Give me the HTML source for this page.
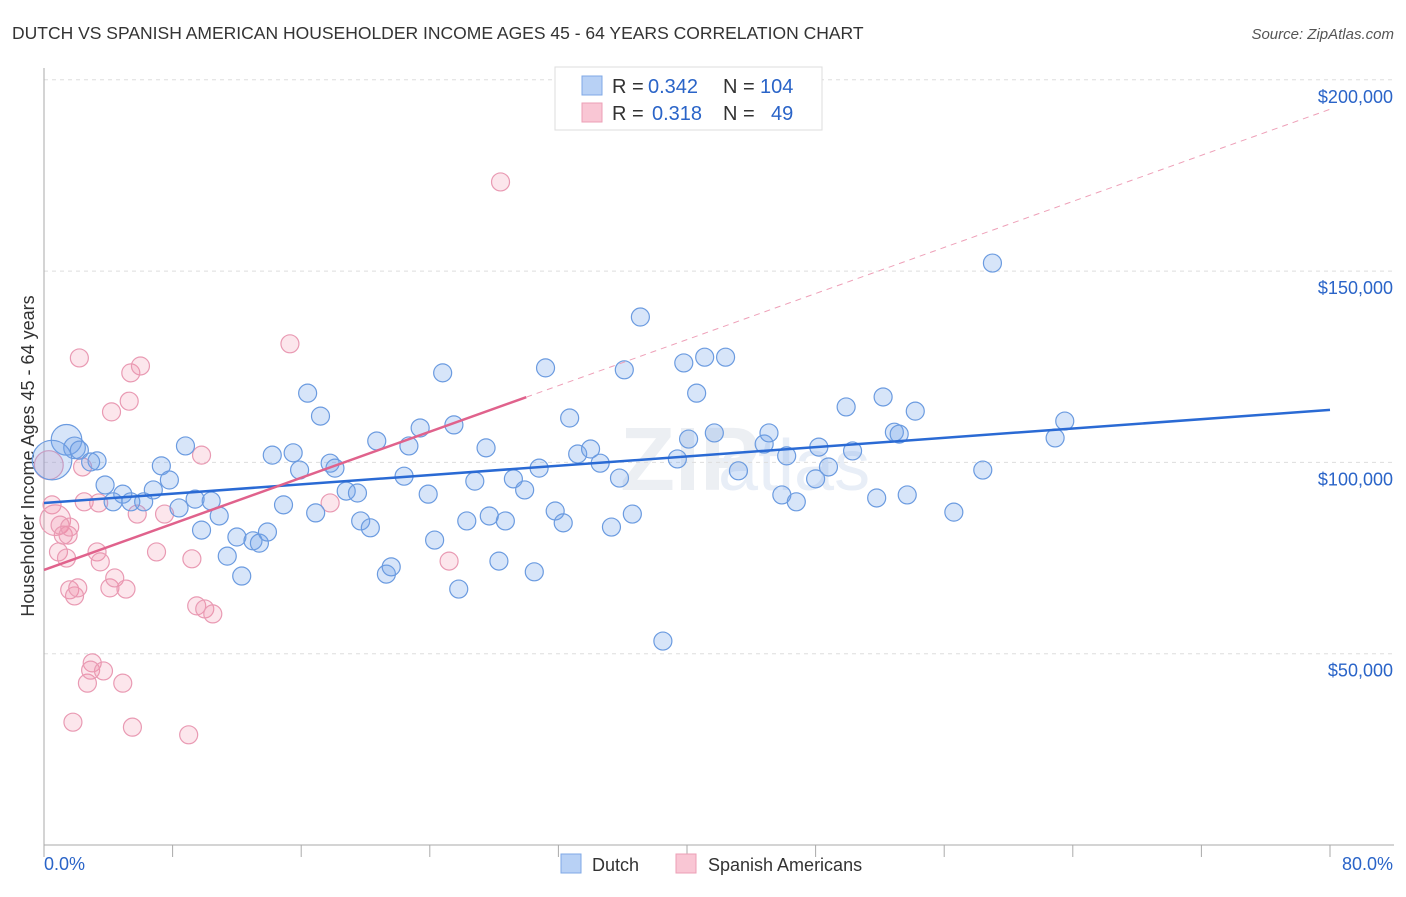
<!DOCTYPE html>
<html><head><meta charset="utf-8"><style>
body{margin:0;background:#fff;font-family:"Liberation Sans",sans-serif;}
svg text{font-family:"Liberation Sans",sans-serif;}
</style></head><body>
<svg id="c" width="1406" height="892">
<text x="12" y="39" font-size="17.5" fill="#333">DUTCH VS SPANISH AMERICAN HOUSEHOLDER INCOME AGES 45 - 64 YEARS CORRELATION CHART</text>
<text x="1394" y="39" font-size="15" fill="#555" font-style="italic" text-anchor="end">Source: ZipAtlas.com</text>
<text x="620" y="490" font-size="90" fill="#eceff3" font-weight="bold">ZIP</text>
<text x="718" y="490" font-size="72" fill="#e8eef7">atlas</text>
<text transform="translate(34,456) rotate(-90)" font-size="18" fill="#333" text-anchor="middle">Householder Income Ages 45 - 64 years</text>
<g id="grid"></g><g id="marks"></g><g id="trend"></g>
<g>
<rect x="555" y="67" width="267" height="63" fill="#fff" stroke="#ddd"/>
<rect x="582" y="76" width="20" height="19" fill="#b8d1f5" stroke="#7fa8e6"/>
<rect x="582" y="103" width="20" height="19" fill="#f9c6d4" stroke="#ec9fb6"/>
<text x="612" y="93" font-size="20" fill="#333">R =</text>
<text x="648" y="93" font-size="20" fill="#2a64c8">0.342</text>
<text x="723" y="93" font-size="20" fill="#333">N =</text>
<text x="760" y="93" font-size="20" fill="#2a64c8">104</text>
<text x="612" y="120" font-size="20" fill="#333">R =</text>
<text x="652" y="120" font-size="20" fill="#2a64c8">0.318</text>
<text x="723" y="120" font-size="20" fill="#333">N =</text>
<text x="771" y="120" font-size="20" fill="#2a64c8">49</text>
</g>
<g>
<rect x="561" y="854" width="20" height="19" fill="#b8d1f5" stroke="#7fa8e6"/>
<text x="592" y="871" font-size="18" fill="#333">Dutch</text>
<rect x="676" y="854" width="20" height="19" fill="#f9c6d4" stroke="#ec9fb6"/>
<text x="708" y="871" font-size="18" fill="#333">Spanish Americans</text>
</g>
<text x="44" y="870" font-size="18" fill="#2a64c8">0.0%</text>
<text x="1393" y="870" font-size="18" fill="#2a64c8" text-anchor="end">80.0%</text>
</svg>
<script>
const yTicks=[50,100,150,200];
const yTickLabels=["$50,000","$100,000","$150,000","$200,000"];
const dutchX=[1.4,1.9,2.2,3.3,2.9,0.5,3.8,4.9,4.3,5.4,6.2,6.8,7.3,7.8,8.4,8.8,9.4,9.8,10.4,10.9,11.4,12.0,12.3,13.0,13.4,13.9,14.2,14.9,15.5,15.9,16.4,16.9,17.2,17.8,18.1,18.8,19.5,19.7,20.3,20.7,21.3,21.6,22.4,22.7,23.4,23.9,24.3,24.8,25.5,25.8,26.3,26.8,27.5,27.7,28.3,28.7,29.2,29.9,30.5,30.8,31.2,31.8,32.3,32.7,33.2,34.0,34.6,35.3,35.8,36.1,36.6,37.1,38.5,39.4,39.8,40.1,40.6,41.1,41.7,42.4,43.2,44.8,45.1,45.9,46.2,46.8,48.0,48.2,48.8,49.9,50.3,51.8,52.2,52.9,53.2,53.7,54.2,56.6,58.4,59.0,62.9,63.5];
const dutchY=[105.9,103.8,103.2,100.4,100.1,100.6,94.1,91.7,89.7,89.7,89.7,92.8,99.1,95.4,88.1,104.3,90.4,82.3,89.9,86.0,75.5,80.5,70.3,79.5,78.9,81.8,101.9,88.9,102.5,98.0,118.1,86.8,112.1,99.8,98.5,92.5,92.0,84.7,82.9,105.6,70.8,72.7,96.4,104.3,109.0,91.7,79.7,123.4,109.8,66.9,84.7,95.1,103.8,86.0,74.2,84.7,95.7,92.8,71.4,98.5,124.7,87.3,84.2,111.6,102.2,103.5,99.8,83.1,95.9,124.2,86.5,138.0,53.3,100.9,126.0,106.1,118.1,127.5,107.7,127.5,97.8,104.8,107.7,91.5,101.7,89.7,95.7,104.0,98.8,114.5,103.0,90.7,117.1,107.9,107.4,91.5,113.4,87.0,98.0,152.1,106.4,110.8];
const dutchSize=[1.7,1.2,1,1,1,2.2,1,1,1,1,1,1,1,1,1,1,1,1,1,1,1,1,1,1,1,1,1,1,1,1,1,1,1,1,1,1,1,1,1,1,1,1,1,1,1,1,1,1,1,1,1,1,1,1,1,1,1,1,1,1,1,1,1,1,1,1,1,1,1,1,1,1,1,1,1,1,1,1,1,1,1,1,1,1,1,1,1,1,1,1,1,1,1,1,1,1,1,1,1,1,1,1];
const spanX=[0.3,0.5,0.7,1.0,1.2,1.5,1.6,0.9,1.4,1.6,1.9,2.1,2.4,2.5,2.2,3.0,2.7,3.3,3.5,2.9,3.7,4.1,4.2,4.4,4.9,5.1,5.4,5.5,1.8,5.3,6.0,5.8,7.0,7.5,9.0,9.2,9.5,9.8,10.0,10.5,15.3,17.8,25.2,28.4,3.4];
const spanY=[99.3,88.9,84.9,83.6,81.0,81.0,83.1,76.6,75.0,66.7,65.1,67.2,98.8,89.7,127.3,47.6,42.3,76.6,74.0,45.7,45.5,67.2,113.2,69.8,42.3,66.9,123.4,30.8,32.1,116.0,125.2,86.5,76.6,86.5,28.8,74.8,62.5,101.9,61.7,60.4,131.0,89.4,74.2,173.3,89.4];
const spanSize=[1.6,1,1.7,1,1,1,1,1,1,1,1,1,1,1,1,1,1,1,1,1,1,1,1,1,1,1,1,1,1,1,1,1,1,1,1,1,1,1,1,1,1,1,1,1,1];
const dutchTrend=[89.4,0.304];
const spanTrend=[71.9,1.505];
const spanSolidEnd=30;
const NS="http://www.w3.org/2000/svg";
const X=v=>44+v/80*1286;
const Y=v=>845-v/50*191.3;
function mk(t,a,p){const e=document.createElementNS(NS,t);for(const k in a)e.setAttribute(k,a[k]);p.appendChild(e);return e;}
const grid=document.getElementById('grid'),marks=document.getElementById('marks'),trend=document.getElementById('trend');
yTicks.forEach((t,i)=>{
 const l=mk('line',{x1:44,y1:Y(t),x2:1394,y2:Y(t),stroke:'#ddd','stroke-dasharray':'4,4'},grid);
 
 
 const tx=mk('text',{x:1393,y:Y(t)+23,'font-size':18,fill:'#2a64c8','text-anchor':'end'},grid);
 tx.textContent=yTickLabels[i];
 
 
});
mk('line',{x1:44,y1:68,x2:44,y2:845,stroke:'#aaa'},grid);
mk('line',{x1:44,y1:845,x2:1394,y2:845,stroke:'#aaa'},grid);
for(let i=0;i<=10;i++){const t=mk('line',{x1:X(i*8),y1:845,x2:X(i*8),y2:857,stroke:'#aaa'},grid);
 
 }
spanX.forEach((x,i)=>{const c=mk('circle',{cx:X(x),cy:Y(spanY[i]),r:9*spanSize[i],fill:'rgba(240,140,170,0.22)',stroke:'#e99ab3','stroke-width':1.2},marks);
 
 });
dutchX.forEach((x,i)=>{const c=mk('circle',{cx:X(x),cy:Y(dutchY[i]),r:9*dutchSize[i],fill:'rgba(110,160,235,0.28)',stroke:'#6b9be0','stroke-width':1.2},marks);
 
 });
const bl=mk('line',{x1:X(0),y1:Y(dutchTrend[0]),x2:X(80),y2:Y(dutchTrend[0]+80*dutchTrend[1]),stroke:'#2a6ad4','stroke-width':2.5},trend);


const ps=mk('line',{x1:X(0),y1:Y(spanTrend[0]),x2:X(spanSolidEnd),y2:Y(spanTrend[0]+spanSolidEnd*spanTrend[1]),stroke:'#e0628c','stroke-width':2.5},trend);


const pd=mk('line',{x1:X(spanSolidEnd),y1:Y(spanTrend[0]+spanSolidEnd*spanTrend[1]),x2:X(80),y2:Y(spanTrend[0]+80*spanTrend[1]),stroke:'#eea0b8','stroke-width':1,'stroke-dasharray':'6,5'},trend);


</script>
</body></html>
